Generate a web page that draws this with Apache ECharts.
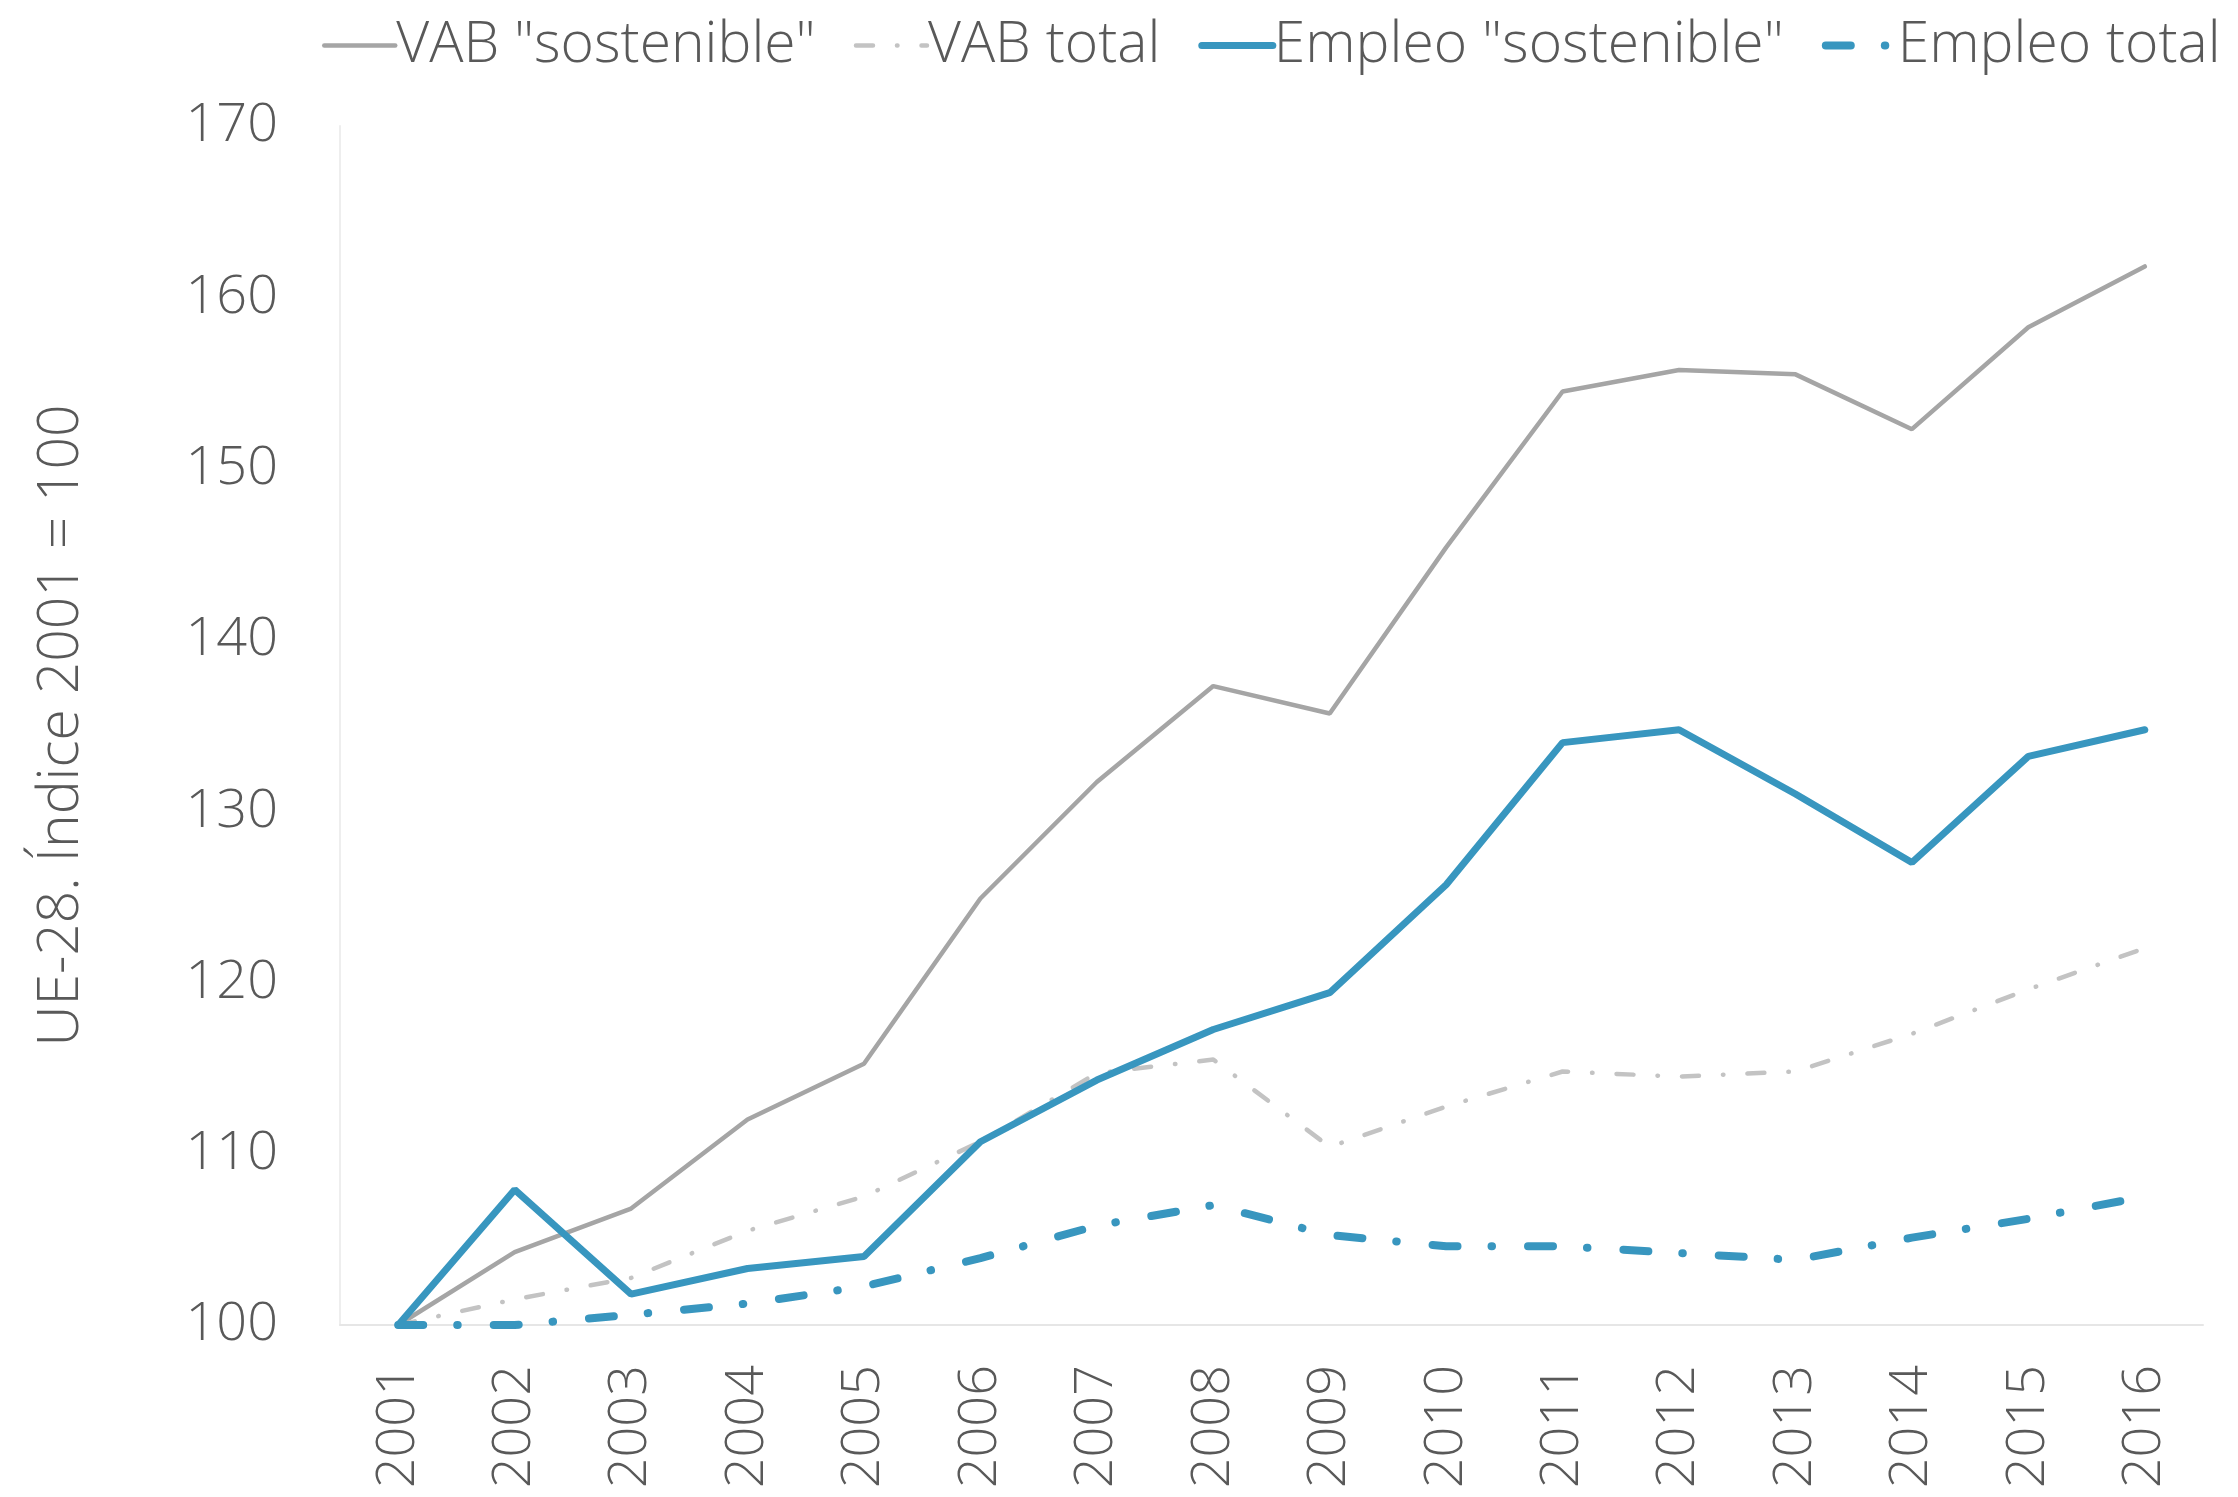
<!DOCTYPE html>
<html>
<head>
<meta charset="utf-8">
<script src="https://cdn.jsdelivr.net/npm/echarts@6/dist/echarts.min.js"></script>
<style>
html,body{margin:0;padding:0;background:#fff;}
#chart{width:2238px;height:1497px;}
</style>
</head>
<body>
<div id="chart"></div>
<script>
const years = ['2001','2002','2003','2004','2005','2006','2007','2008','2009','2010','2011','2012','2013','2014','2015','2016'];
const vabSostenible = [100,104.25,106.8,112,115.25,124.9,131.7,137.3,135.7,145.4,154.5,155.75,155.5,152.3,158.25,161.8];
const vabTotal = [100,101.5,102.75,105.5,107.5,110.7,114.7,115.5,110.4,112.75,114.8,114.5,114.8,117,119.6,122];
const empleoSostenible = [100,107.9,101.8,103.3,104,110.7,114.3,117.25,119.4,125.7,134,134.75,131,127,133.2,134.75];
const empleoTotal = [100,100,100.6,101.25,102.25,103.9,105.8,107,105.25,104.6,104.6,104.2,103.8,105.1,106.2,107.5];
const seriesNames = ['VAB "sostenible"','VAB total','Empleo "sostenible"','Empleo total'];
const yTitle = 'UE-28. Índice 2001 = 100';

const FONT = '"Open Sans", "Noto Sans", sans-serif';
const TXT = '#595959';
const BLUE = '#3896bf';

const chart = echarts.init(document.getElementById('chart'));
chart.setOption({
  animation: false,
  textStyle: {fontFamily: FONT},
  legend: {
    top: 12, left: 317,
    itemWidth: 71, itemHeight: 20, itemGap: 38,
    itemStyle: {opacity: 0},
    lineStyle: {width: 'inherit', type: 'inherit', cap: 'inherit'},
    textStyle: {fontSize: 57, color: TXT, fontFamily: FONT, fontWeight: 300, padding: [0,0,0,-4]},
    data: seriesNames
  },
  grid: {left: 340, right: 35, top: 126, bottom: 172, containLabel: false},
  xAxis: {
    type: 'category',
    data: years,
    boundaryGap: true,
    axisLine: {show: true, lineStyle: {color: '#e6e6e6', width: 2}},
    axisTick: {show: false},
    axisLabel: {rotate: 90, margin: 40, fontSize: 54, color: TXT, fontFamily: FONT, fontWeight: 300}
  },
  yAxis: {
    type: 'value',
    min: 100, max: 170, interval: 10,
    name: yTitle,
    nameLocation: 'middle',
    nameRotate: 90,
    nameGap: 250,
    nameTextStyle: {fontSize: 57, color: TXT, fontFamily: FONT, fontWeight: 300},
    axisLine: {show: true, lineStyle: {color: '#eeeeee', width: 2}},
    axisTick: {show: false},
    splitLine: {show: false},
    axisLabel: {margin: 62, fontSize: 54, color: TXT, fontFamily: FONT, fontWeight: 300}
  },
  series: [
    {name: seriesNames[0], type: 'line', data: vabSostenible, symbol: 'none',
     lineStyle: {color: '#a5a5a5', width: 4.5, cap: 'round'}, itemStyle: {color: '#a5a5a5'}},
    {name: seriesNames[1], type: 'line', data: vabTotal, symbol: 'none',
     lineStyle: {color: '#c3c3c3', width: 4.5, type: [17, 24, 0.5, 24], cap: 'round'}, itemStyle: {color: '#c3c3c3'}},
    {name: seriesNames[2], type: 'line', data: empleoSostenible, symbol: 'none',
     lineStyle: {color: BLUE, width: 7, cap: 'round'}, itemStyle: {color: BLUE}},
    {name: seriesNames[3], type: 'line', data: empleoTotal, symbol: 'none',
     lineStyle: {color: BLUE, width: 8, type: [25, 34, 0.5, 36], cap: 'round'}, itemStyle: {color: BLUE}}
  ]
});
</script>
</body>
</html>
